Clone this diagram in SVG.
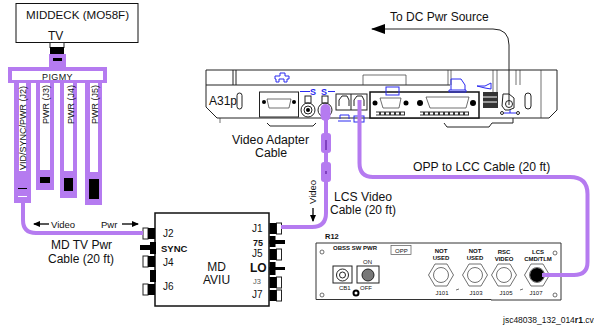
<svg xmlns="http://www.w3.org/2000/svg" width="594" height="327" viewBox="0 0 594 327">
<style>
text{font-family:"Liberation Sans",Arial,sans-serif;fill:#111}
.l{font-size:12px}.s{font-size:9px}.b{font-weight:bold}
.t{font-size:10px}.m{font-size:6px}
.ln{fill:none;stroke:#222;stroke-width:1}
.thin{fill:none;stroke:#333;stroke-width:.7}
.w{fill:#fff;stroke:#222;stroke-width:1}
.k{fill:#000}.p{fill:#b57bf0}
.cable{fill:none;stroke:#b57bf0;stroke-width:4}
.blue{fill:none;stroke:#2a2af0;stroke-width:1}
.bt{font-size:9px;fill:#2a2af0;font-weight:bold}
</style>
<defs>
<marker id="ah" markerWidth="14" markerHeight="10" refX="13" refY="5" orient="auto" markerUnits="userSpaceOnUse"><path d="M0 0L14 5L0 10Z" fill="#000"/></marker>
<marker id="sm" markerWidth="7" markerHeight="6" refX="6" refY="3" orient="auto" markerUnits="userSpaceOnUse"><path d="M0 0L7 3L0 6Z" fill="#000"/></marker>
<g id="jack-l"><rect x="0" y="0" width="5" height="11" class="w"/><rect x="5" y="0" width="7" height="11" class="k"/></g>
<g id="jack-r"><rect x="7" y="0" width="5" height="11" class="w"/><rect x="0" y="0" width="7" height="11" class="k"/></g>
<g id="hex"><path d="M-6 -11H6L12.500 0L6 11H-6L-12.500 0Z" class="thin"/><circle r="7.500" class="thin"/></g>
</defs>
<g id="middeck">
<rect x="16" y="3.500" width="122" height="39" fill="#fff" stroke="#111"/>
<text x="26" y="19" class="l" style="font-size:11.600px">MIDDECK (MO58F)</text>
<text x="48" y="40" class="l">TV</text>
</g>
<g id="pigmy">
<rect x="50" y="42.500" width="14" height="5" class="w"/><rect x="50" y="47" width="14" height="7" class="k"/>
<rect x="49" y="54" width="17" height="14" class="p"/><rect x="53" y="58" width="9" height="3" class="k"/>
<rect x="8" y="67" width="99" height="16" class="p"/><rect x="12" y="71" width="91" height="9" fill="#fff"/>
<text x="57.500" y="79.500" class="s" text-anchor="middle" letter-spacing=".4">PIGMY</text>
<rect x="14" y="83" width="17" height="120" class="p"/><rect x="19" y="83" width="7" height="88" fill="#fff"/>
<rect x="18" y="188" width="9" height="1" class="k"/><rect x="18" y="196" width="9" height="1" fill="#fff"/>
<rect x="36" y="83" width="18" height="107" class="p"/><rect x="40" y="83" width="10" height="87" fill="#fff"/><rect x="40" y="177" width="10" height="6" class="k"/>
<rect x="60" y="83" width="17" height="115" class="p"/><rect x="64" y="83" width="9" height="88" fill="#fff"/><rect x="64" y="178" width="9" height="13" class="k"/>
<rect x="85" y="83" width="17" height="122" class="p"/><rect x="90" y="83" width="8" height="89" fill="#fff"/><rect x="89" y="179" width="10" height="20" class="k"/>
<g class="s"><text transform="translate(26,170) rotate(-90)">VID/SYNC/PWR (J2)</text>
<text transform="translate(49,124) rotate(-90)">PWR (J3)</text>
<text transform="translate(74,124) rotate(-90)">PWR (J4)</text>
<text transform="translate(98,124) rotate(-90)">PWR (J5)</text></g>
</g>
<g id="aviu">
<rect x="155" y="213" width="114" height="93" fill="#fff" stroke="#111" stroke-width="1.500"/>
<use href="#jack-l" x="143" y="228"/><rect x="140" y="245" width="12" height="5" class="k"/><rect x="150" y="242" width="6" height="12" class="k"/>
<use href="#jack-l" x="143" y="256"/><rect x="150" y="270" width="6" height="12" class="k"/><use href="#jack-l" x="143" y="284"/>
<use href="#jack-r" x="269.500" y="223"/><rect x="269.500" y="236" width="6" height="11" class="k"/><rect x="269.500" y="240" width="15.500" height="4" class="k"/>
<use href="#jack-r" x="269.500" y="249"/><rect x="269.500" y="262" width="6" height="13" class="k"/><rect x="269.500" y="267" width="15.500" height="3" class="k"/>
<use href="#jack-r" x="269.500" y="277"/><use href="#jack-r" x="269.500" y="290"/>
<text x="163" y="237" class="t">J2</text><text x="161" y="252" class="b t" style="font-size:9.500px">SYNC</text><text x="163" y="266" class="t">J4</text><text x="163" y="290" class="t">J6</text>
<text x="252" y="232" class="t">J1</text><text x="253" y="246" class="b s">75</text><text x="252" y="257" class="t">J5</text><text x="250" y="272" class="b l">LO</text><text x="253" y="284" style="font-size:7.500px;fill:#555">J3</text><text x="252" y="298" class="t">J7</text>
<text x="216.500" y="271" class="l" text-anchor="middle">MD</text><text x="216.500" y="284" class="l" text-anchor="middle">AVIU</text>
</g>
<g id="laptop">
<path class="ln" d="M206 70H557V110L549 118H217L206 107Z" fill="#fff"/>
<path class="ln" d="M206 85H450M233 70V85M236 70V85"/>
<path class="thin" d="M363 85V75H406V85M448 70V85M451 70V85M493 70V92M497 70V92M516 70V85M520 70V85M541 70V118M220 118V123"/>
<text x="209" y="105" class="l">A31p</text>
<rect x="237" y="93" width="5" height="16" rx="2.500" class="ln"/>
<path class="blue" d="M275 76h5v-3h5v3h4v3h-2v3h-3v-3h-5v3h-3v-3h-1z"/>
<rect x="259.500" y="92" width="39" height="25" class="w"/>
<path class="thin" d="M267 99H291L289 108H269Z"/><circle cx="264" cy="102" r="2" class="k"/><circle cx="294" cy="102" r="2" class="k"/>
<path class="ln" d="M267 123L270 126H313L316 123"/>
<rect x="305" y="96" width="6" height="7" class="ln"/><circle cx="308" cy="110" r="7" class="ln"/><circle cx="308" cy="110" r="4" class="ln"/><circle cx="308" cy="110" r="2" class="k"/>
<rect x="322" y="96" width="6" height="7" class="ln"/><circle cx="325" cy="110" r="7" class="ln"/>
<path d="M300 91.500H310" class="blue"/><text x="310" y="95" class="bt">S</text><text x="321" y="95" class="bt">S</text><path d="M328 91.500H335" class="blue"/>
<rect x="336" y="94" width="31" height="16" class="w"/><path class="ln" d="M351 94V110M339 106V100L342 96H347L349 100V106M354 106V100L357 96H362L364 100V106"/>
<path class="blue" d="M340 119V115H349V119M338 121H351"/><rect x="354" y="116" width="10" height="6" class="blue"/>
<rect x="370" y="92" width="109" height="26" fill="#fff" stroke="#111" stroke-width="1.500"/>
<path class="thin" d="M380 98H401L399 108H383Z"/><circle cx="375" cy="103" r="2.500" class="k"/><circle cx="406" cy="103" r="2.500" class="k"/>
<path class="thin" d="M426 97H469L466 108H430Z"/><circle cx="420" cy="103" r="3" class="k"/><circle cx="473" cy="103" r="3" class="k"/>
<path d="M376 113.500H405M420 113.500H469" fill="none" stroke="#333" stroke-width="4"/>
<path d="M376 113.500H405M420 113.500H469" fill="none" stroke="#fff" stroke-width="2" stroke-dasharray="3 2"/>
<rect x="386" y="87" width="13" height="8" class="blue"/>
<path class="blue" d="M451 90V79H461L465 85V90M449 90H466V92H449Z"/>
<path class="blue" d="M477 86H485L491 83V89L485 88Z"/>
<rect x="483" y="92" width="15" height="16" fill="#333"/><path d="M483 97H497M483 102H497" stroke="#fff" fill="none"/>
<rect x="525" y="93" width="6" height="16" rx="3" class="ln"/>
<path class="ln" d="M503 94H509L514 98V108L509 110H505L502 106Z"/><circle cx="509" cy="104" r="3.500" class="ln"/>
<path class="ln" d="M444 123L447 127H489L492 123H513V118"/><path class="blue" d="M504 113H516M510 110V113"/><circle cx="502" cy="113" r="1.500" class="ln"/><circle cx="518" cy="113" r="1.500" class="ln"/>
</g>
<g id="r12">
<text x="325" y="239" class="b" style="font-size:7.500px">R12</text>
<path d="M316 243H561V300H491V299.500H316Z" fill="#fff" stroke="#333"/>
<text x="333" y="250" class="b m">OBSS SW PWR</text>
<rect x="391" y="245.500" width="20" height="9" fill="#fff" stroke="#555" stroke-width=".7"/><text x="395" y="252.500" class="m">OPP</text>
<text x="363" y="264" class="m">ON</text><text x="360" y="290" class="m">OFF</text><text x="339" y="290" class="m">CB1</text>
<text x="441" y="253" text-anchor="middle" class="b m">NOT</text><text x="441" y="260" text-anchor="middle" class="b m">USED</text>
<text x="475" y="253" text-anchor="middle" class="b m">NOT</text><text x="475" y="260" text-anchor="middle" class="b m">USED</text>
<text x="504" y="254" text-anchor="middle" class="b m">RSC</text><text x="504" y="261" text-anchor="middle" class="b m">VIDEO</text>
<text x="538" y="254" text-anchor="middle" class="b m">LCS</text><text x="538" y="261" text-anchor="middle" class="b m">CMD/TLM</text>
<text x="442" y="295" text-anchor="middle" class="m">J101</text><text x="476" y="295" text-anchor="middle" class="m">J103</text><text x="506" y="295" text-anchor="middle" class="m">J105</text><text x="536" y="295" text-anchor="middle" class="m">J107</text>
<circle cx="322" cy="252" r="2" class="thin"/><circle cx="322" cy="295" r="2" class="thin"/><circle cx="555" cy="253" r="2" class="thin"/><circle cx="555" cy="295" r="2" class="thin"/>
<rect x="333" y="266" width="19" height="17" class="ln"/><circle cx="342.500" cy="275" r="6" class="ln"/><circle cx="342.500" cy="275" r="3" class="ln"/>
<rect x="357" y="266" width="22" height="17" class="ln"/><circle cx="368" cy="275" r="6" fill="#777" stroke="#222"/>
<circle cx="356" cy="293" r="2.500" fill="none" stroke="#000" stroke-width="2"/>
<use href="#hex" x="441" y="275"/><use href="#hex" x="475" y="275"/><use href="#hex" x="504" y="275"/><use href="#hex" x="537" y="275"/>
<circle cx="537" cy="275" r="7" class="k"/>
<path class="thin" d="M456 290l3-1M520 290l3-1"/>
</g>
<g id="connectors">
<path class="cable" d="M23 203V220Q23 233 36 233H143"/>
<path class="cable" d="M281 227H312Q326 227 326 213V105"/>
<path class="cable" d="M359.500 100V163Q359.500 177 373 177H570Q587.500 177 587.500 194V262Q587.500 275 574 275H542"/>
<path class="ln" d="M509 105V45Q509 29 493 29H372" marker-end="url(#ah)"/>
<rect x="320.500" y="104" width="10" height="17" rx="5" class="p"/>
<rect x="321" y="133" width="10" height="20" rx="3" class="p"/>
<rect x="321" y="162" width="10" height="20" rx="3" class="p"/>
<rect x="325" y="140" width="2" height="10" fill="#8040c0"/><rect x="325" y="171" width="2" height="3" fill="#8040c0"/>
<path class="ln" d="M49 224H34" marker-end="url(#sm)" style="stroke-width:1.500"/>
<path class="ln" d="M122 224H138" marker-end="url(#sm)" style="stroke-width:1.500"/>
<path class="ln" d="M313 208V221" marker-end="url(#sm)" style="stroke-width:1.500"/>
</g>
<g id="labels">
<text x="51" y="228" style="font-size:9.500px">Video</text>
<text x="101" y="228" style="font-size:9.500px">Pwr</text>
<text x="51" y="249" class="l">MD TV Pwr</text>
<text x="48" y="263" class="l">Cable (20 ft)</text>
<text x="390" y="21" class="l">To DC Pwr Source</text>
<text x="232" y="144" class="l" style="font-size:12.300px">Video Adapter</text>
<text x="255" y="157" class="l" style="font-size:12.300px">Cable</text>
<text x="413" y="171" class="l" style="font-size:12.200px">OPP to LCC Cable (20 ft)</text>
<text x="334" y="201" class="l" style="font-size:12.200px">LCS Video</text>
<text x="330" y="214" class="l">Cable (20 ft)</text>
<text transform="translate(316,204) rotate(-90)" style="font-size:9.500px">Video</text>
<text x="503" y="323" style="font-size:8.500px">jsc48038_132_014<tspan font-weight="bold">r1</tspan>.cvx</text>
</g>
</svg>
